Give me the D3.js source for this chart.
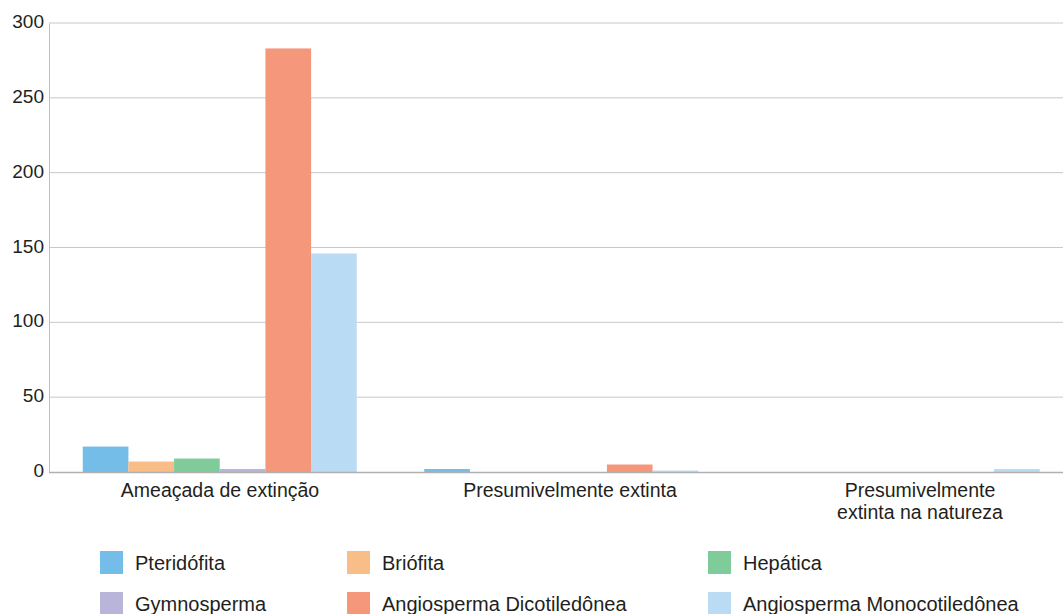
<!DOCTYPE html>
<html><head><meta charset="utf-8">
<script src="https://cdn.jsdelivr.net/npm/d3@7"></script>
<style>body{margin:0;background:#fff}svg{display:block}</style>
</head><body>
<svg id="c" width="1063" height="614"></svg>
<script>
const categories = ["Ameaçada de extinção", "Presumivelmente extinta", "Presumivelmente extinta na natureza"];
const categoryLines = [["Ameaçada de extinção"], ["Presumivelmente extinta"], ["Presumivelmente", "extinta na natureza"]];
const seriesNames = ["Pteridófita", "Briófita", "Hepática", "Gymnosperma", "Angiosperma Dicotiledônea", "Angiosperma Monocotiledônea"];
const pteridofita = [17, 2, 0];
const briofita = [7, 0, 0];
const hepatica = [9, 0, 0];
const gymnosperma = [2, 0, 0];
const dicotiledonea = [283, 5, 0];
const monocotiledonea = [146, 1, 2];
const seriesValues = [pteridofita, briofita, hepatica, gymnosperma, dicotiledonea, monocotiledonea];
const colors = ["#74bde8", "#f9bd87", "#80cb9a", "#b9b4d9", "#f5977a", "#b9dcf4"];
const yTicks = [0, 50, 100, 150, 200, 250, 300];

const svg = d3.select("#c");
const mLeft = 49, mRight = 1073.5, mTop = 23, mBottom = 472;
const font = "'Liberation Sans', Arial, sans-serif";

const y = d3.scaleLinear().domain([0, 300]).range([mBottom, mTop]);
const x0 = d3.scaleBand().domain(categories).range([mLeft, mRight]).paddingInner(0).paddingOuter(0);
const x1 = d3.scaleBand().domain(seriesNames).range([33.75, x0.bandwidth() - 33.75]).padding(0);
const xLabel = d3.scaleBand().domain(categories).range([45, 1095]);

// grid
svg.append("g").selectAll("line").data(yTicks.filter(d => d > 0)).join("line")
  .attr("x1", mLeft).attr("x2", 1063).attr("y1", d => y(d)).attr("y2", d => y(d))
  .attr("stroke", "#c8c8c8").attr("stroke-width", 1);

// y axis
const yAxis = svg.append("g").attr("transform", `translate(${mLeft},0)`)
  .call(d3.axisLeft(y).tickValues(yTicks).tickSize(0).tickPadding(5));
yAxis.select(".domain").attr("stroke", "#c0c0c0");
yAxis.selectAll("text").attr("font-family", font).attr("font-size", 19).attr("fill", "#231f20").attr("dy", "0.24em");

// bars
const groups = svg.append("g").selectAll("g").data(categories).join("g")
  .attr("transform", d => `translate(${x0(d)},0)`);
groups.selectAll("rect").data((c, ci) => seriesNames.map((s, si) => ({s, v: seriesValues[si][ci], si})))
  .join("rect")
  .attr("x", d => x1(d.s)).attr("width", x1.bandwidth())
  .attr("y", d => y(d.v)).attr("height", d => y(0) - y(d.v))
  .attr("fill", d => colors[d.si]);

// baseline
svg.append("line").attr("x1", mLeft).attr("x2", 1063).attr("y1", y(0)+0.5).attr("y2", y(0)+0.5)
  .attr("stroke", "#b0b0b0").attr("stroke-width", 1.5);

// category labels
const xl = svg.append("g").selectAll("text").data(categories).join("text")
  .attr("x", d => xLabel(d) + xLabel.bandwidth()/2).attr("y", 497)
  .attr("text-anchor", "middle").attr("font-family", font).attr("font-size", 19.5).attr("fill", "#231f20");
xl.each(function(d, i) {
  d3.select(this).selectAll("tspan").data(categoryLines[i]).join("tspan")
    .attr("x", xLabel(d) + xLabel.bandwidth()/2).attr("dy", (t, j) => j === 0 ? 0 : 22).text(t => t);
});

// legend
const legX = [100, 347, 708];
const legY = [551, 592];
const leg = svg.append("g").selectAll("g").data(seriesNames).join("g")
  .attr("transform", (d, i) => `translate(${legX[i % 3]},${legY[Math.floor(i / 3)]})`);
leg.append("rect").attr("width", 23).attr("height", 23).attr("fill", (d, i) => colors[i]);
leg.append("text").attr("x", 35).attr("y", 19).text(d => d)
  .attr("font-family", font)
  .attr("font-size", 20).attr("fill", "#231f20");
</script>
</body></html>
